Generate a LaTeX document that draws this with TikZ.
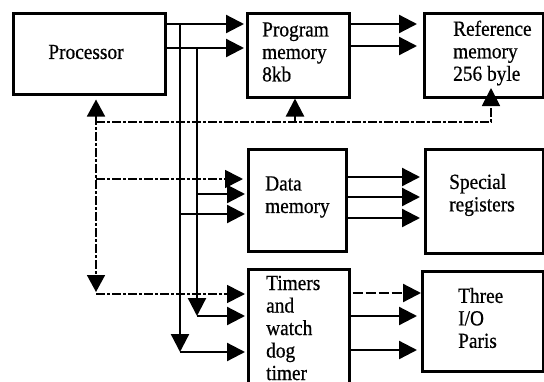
\documentclass[tikz,border=0pt]{standalone}
\usepackage{fontspec}
\setmainfont{Liberation Serif}[FakeStretch=0.9,FakeBold=0.6]
\usetikzlibrary{arrows.meta}
\begin{document}
\begin{tikzpicture}[x=1pt,y=-1pt,
  box/.style={draw, line width=2.5pt, inner sep=0pt, anchor=north west},
  txt/.style={inner sep=0pt, align=left, anchor=west, font=\fontsize{21.5}{22.5}\selectfont},
  arr/.style={line width=2.3pt, -{Triangle[length=18pt,width=18pt]}},
  dd/.style={line width=1.7pt, dash pattern=on 9pt off 2pt on 3pt off 2pt},
  dashtip/.style={-{Triangle[length=18pt,width=18pt]}},
  bothtips/.style={{Triangle[length=17pt,width=18pt]}-{Triangle[length=17pt,width=18pt]}}]
\useasboundingbox (0,0) rectangle (544,381);
\clip (0,0) rectangle (544,381);
\fill[white] (0,0) rectangle (544,381);

% boxes
\node[box, minimum width=152pt, minimum height=81pt] (proc) at (12,12) {};
\node[box, minimum width=102pt, minimum height=84pt] (pm) at (246,12) {};
\node[box, minimum width=119pt, minimum height=84pt] (rm) at (423,12) {};
\node[box, minimum width=98pt, minimum height=102pt] (dm) at (247,148) {};
\node[box, minimum width=118pt, minimum height=104pt] (sr) at (424,148) {};
\node[box, minimum width=101pt, minimum height=124pt] (tim) at (247,268) {};
\node[box, minimum width=121pt, minimum height=100pt] (th) at (421,270) {};

% texts
\node[txt, anchor=center] (proct) at (86,52) {Processor};
\node[txt] (pmt) at (262,52) {Program\\memory\\8kb};
\node[txt] (rmt) at (453,53) {Reference\\memory\\256 byle};
\node[txt] (dmt) at (265,197) {Data\\memory};
\node[txt] (srt) at (449,195) {Special\\registers};
\node[txt] (timt) at (266,328) {Timers\\and\\watch\\dog\\timer};
\node[txt] (tht) at (458,318) {Three\\I/O\\Paris};

% processor -> program memory
\draw[arr, shorten >=2pt] (proc.east |- 0,24) -- (pm.west |- 0,24);
\draw[arr, shorten >=2pt] (proc.east |- 0,48) -- (pm.west |- 0,48);

% bus lines down
\draw[arr] (180,24) -- (180,352);
\draw[arr, shorten >=2pt] (180,352) -- (tim.west |- 0,352);
\draw[arr, shorten >=2pt] (180,214) -- (dm.west |- 0,214);
\draw[arr] (197,48) -- (197,316);
\draw[arr, shorten >=2pt] (197,316) -- (tim.west |- 0,316);
\draw[arr, shorten >=2pt] (197,194) -- (dm.west |- 0,194);

% program memory -> reference memory
\draw[arr, shorten >=6pt] (pm.east |- 0,24) -- (rm.west |- 0,24);
\draw[arr, shorten >=6pt] (pm.east |- 0,46) -- (rm.west |- 0,46);

% data memory -> special registers
\draw[arr, shorten >=4pt] (dm.east |- 0,177) -- (sr.west |- 0,177);
\draw[arr, shorten >=4pt] (dm.east |- 0,197) -- (sr.west |- 0,197);
\draw[arr, shorten >=4pt] (dm.east |- 0,218) -- (sr.west |- 0,218);

% timers -> three I/O
\draw[arr, dash pattern=on 10pt off 3pt, shorten <=2pt] (tim.east |- 0,293) -- (th.west |- 0,293);
\draw[arr, shorten >=4pt] (tim.east |- 0,316) -- (th.west |- 0,316);
\draw[arr, shorten >=4pt] (tim.east |- 0,350) -- (th.west |- 0,350);

% dash-dot control lines
\draw[dd, bothtips, shorten <=4pt] (proc.south -| 96,0) -- (96,292);
\draw[dd, dashtip] (96,122) -- (491,122) -- (rm.south -| 491,0) -- (491,88);
\draw[arr] (295,122) -- (pm.south -| 295,0);
\draw[dd, dashtip, shorten >=4pt] (96,179) -- (dm.west |- 0,179);
\draw[dd, dashtip, shorten >=2pt] (96,294) -- (tim.west |- 0,294);
\end{tikzpicture}
\end{document}
